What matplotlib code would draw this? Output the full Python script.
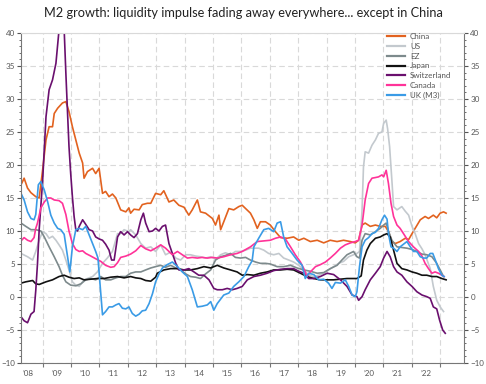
import matplotlib
matplotlib.use("Agg")
import matplotlib.pyplot as plt
from matplotlib.ticker import FixedLocator, MultipleLocator
import numpy as np

plt.rcParams['font.family'] = ['Lato', 'DejaVu Sans']

#region data (year as decimal, growth in % y/y)
china_t = [2008.24, 2008.35, 2008.47, 2008.59, 2008.76, 2008.88, 2009.00, 2009.12, 2009.23, 2009.35,
           2009.41, 2009.53, 2009.70, 2009.82, 2009.93, 2010.05, 2010.17, 2010.29, 2010.41, 2010.46,
           2010.58, 2010.76, 2010.87, 2010.99, 2011.11, 2011.22, 2011.34, 2011.46, 2011.58, 2011.75,
           2011.93, 2012.04, 2012.10, 2012.22, 2012.40, 2012.51, 2012.69, 2012.81, 2012.98, 2013.16,
           2013.27, 2013.45, 2013.62, 2013.80, 2013.98, 2014.15, 2014.27, 2014.45, 2014.56, 2014.74,
           2014.98, 2015.09, 2015.21, 2015.27, 2015.38, 2015.56, 2015.73, 2015.91, 2016.03, 2016.15,
           2016.32, 2016.44, 2016.56, 2016.67, 2016.85, 2017.02, 2017.20, 2017.38, 2017.61, 2017.84,
           2018.02, 2018.20, 2018.43, 2018.67, 2018.90, 2019.13, 2019.37, 2019.60, 2019.84, 2020.01,
           2020.13, 2020.25, 2020.36, 2020.54, 2020.72, 2020.89, 2021.07, 2021.18, 2021.30, 2021.42,
           2021.59, 2021.77, 2021.89, 2022.01, 2022.12, 2022.30, 2022.47, 2022.59, 2022.76, 2022.88,
           2023.00, 2023.12, 2023.21]
china_v = [17.0, 18.0, 16.5, 15.8, 15.2, 15.0, 19.2, 23.8, 25.8, 25.8,
           27.8, 28.6, 29.4, 29.6, 28.1, 25.8, 23.8, 21.8, 20.3, 18.0,
           19.0, 19.5, 18.7, 19.5, 15.7, 16.0, 15.2, 15.6, 15.0, 13.2,
           12.9, 13.5, 12.7, 13.3, 13.2, 14.0, 14.2, 14.2, 15.7, 15.5,
           16.1, 14.4, 14.7, 13.9, 13.6, 12.4, 13.2, 14.7, 12.9, 12.7,
           11.9, 10.9, 12.4, 10.2, 11.4, 13.4, 13.2, 13.7, 13.9, 13.4,
           12.7, 11.7, 10.4, 11.4, 11.4, 10.9, 9.9, 9.0, 8.9, 9.1,
           8.6, 8.9, 8.4, 8.6, 8.2, 8.6, 8.4, 8.6, 8.4, 8.2,
           8.6, 10.9, 11.2, 10.7, 10.9, 10.7, 10.7, 9.9, 8.4, 8.1,
           8.4, 8.9, 8.7, 9.6, 10.4, 11.7, 12.2, 11.9, 12.4, 12.0,
           12.7, 12.9, 12.7]

us_t = [2008.24, 2008.47, 2008.65, 2008.76, 2008.88, 2009.00, 2009.12, 2009.23, 2009.35, 2009.47,
        2009.58, 2009.70, 2009.82, 2009.93, 2010.05, 2010.17, 2010.29, 2010.46, 2010.58, 2010.76,
        2010.93, 2011.11, 2011.28, 2011.46, 2011.64, 2011.75, 2011.87, 2012.04, 2012.10, 2012.28,
        2012.46, 2012.63, 2012.81, 2012.98, 2013.16, 2013.33, 2013.51, 2013.69, 2013.86, 2014.04,
        2014.21, 2014.39, 2014.56, 2014.74, 2014.92, 2015.09, 2015.27, 2015.44, 2015.62, 2015.79,
        2015.97, 2016.15, 2016.32, 2016.44, 2016.61, 2016.79, 2016.96, 2017.14, 2017.32, 2017.49,
        2017.67, 2017.84, 2018.02, 2018.20, 2018.37, 2018.55, 2018.72, 2018.90, 2019.07, 2019.25,
        2019.43, 2019.60, 2019.78, 2019.95, 2020.07, 2020.16, 2020.25, 2020.30, 2020.36, 2020.48,
        2020.60, 2020.72, 2020.83, 2020.95, 2021.01, 2021.10, 2021.15, 2021.22, 2021.30, 2021.36,
        2021.48, 2021.65, 2021.77, 2021.89, 2022.01, 2022.12, 2022.24, 2022.36, 2022.47, 2022.65,
        2022.76, 2022.88, 2023.00, 2023.12]
us_v = [6.6, 6.1, 5.6, 6.9, 8.6, 9.9, 9.6, 8.9, 9.2, 8.6,
        7.9, 7.1, 5.6, 4.1, 2.3, 1.8, 1.6, 2.6, 2.8, 3.1,
        3.8, 5.1, 5.9, 6.9, 9.6, 9.6, 10.2, 9.9, 10.2, 9.4,
        8.1, 7.4, 7.6, 6.9, 7.9, 6.4, 6.8, 5.9, 5.6, 6.4,
        6.4, 6.2, 6.1, 5.9, 6.1, 5.7, 6.4, 6.7, 6.4, 6.9,
        6.9, 7.1, 7.4, 7.4, 7.4, 7.1, 6.6, 6.4, 6.6, 5.9,
        5.6, 5.3, 4.8, 4.1, 3.3, 3.1, 3.3, 3.6, 4.1, 4.6,
        5.1, 5.4, 6.1, 6.4, 6.6, 6.9, 13.2, 19.7, 22.0, 21.8,
        23.0, 23.8, 24.8, 25.0, 26.3, 26.8, 25.5, 22.8, 17.7, 13.7,
        13.2, 13.7, 13.0, 12.4, 10.7, 9.6, 8.1, 7.3, 6.4, 4.3,
        1.6, -0.5, -1.5, -2.2]

ez_t = [2008.24, 2008.41, 2008.59, 2008.76, 2008.94, 2009.06, 2009.23, 2009.41, 2009.58, 2009.70,
        2009.82, 2009.99, 2010.17, 2010.35, 2010.52, 2010.70, 2010.87, 2011.05, 2011.22, 2011.40,
        2011.58, 2011.75, 2011.93, 2012.10, 2012.28, 2012.46, 2012.63, 2012.81, 2012.98, 2013.16,
        2013.33, 2013.51, 2013.69, 2013.86, 2014.04, 2014.21, 2014.39, 2014.56, 2014.74, 2014.92,
        2015.09, 2015.27, 2015.44, 2015.62, 2015.79, 2015.97, 2016.15, 2016.32, 2016.50, 2016.67,
        2016.85, 2017.02, 2017.26, 2017.49, 2017.73, 2017.96, 2018.20, 2018.43, 2018.67, 2018.90,
        2019.13, 2019.37, 2019.54, 2019.72, 2019.95, 2020.07, 2020.16, 2020.25, 2020.36, 2020.54,
        2020.72, 2020.89, 2021.01, 2021.10, 2021.18, 2021.30, 2021.48, 2021.65, 2021.83, 2022.01,
        2022.18, 2022.36, 2022.53, 2022.71, 2022.88, 2023.00, 2023.12]
ez_v = [11.2, 10.7, 10.2, 10.2, 10.0, 9.1, 7.6, 6.1, 4.6, 3.3,
        2.3, 1.8, 1.7, 2.0, 2.6, 2.8, 2.6, 3.1, 2.6, 2.6,
        2.9, 3.1, 3.1, 3.6, 3.8, 3.8, 4.1, 4.4, 4.6, 4.8,
        4.5, 4.8, 4.4, 4.1, 3.5, 3.1, 3.0, 2.8, 3.5, 4.1,
        5.6, 6.1, 6.3, 6.6, 6.0, 5.9, 6.0, 5.6, 5.3, 5.1,
        5.1, 5.0, 4.6, 4.6, 4.8, 4.4, 4.1, 3.9, 3.6, 3.7,
        4.3, 4.8, 5.6, 6.4, 6.9, 6.1, 5.9, 8.6, 9.6, 9.4,
        9.9, 10.4, 10.9, 11.2, 10.0, 8.6, 7.6, 7.5, 7.4, 7.2,
        6.9, 6.5, 6.4, 6.1, 5.1, 4.1, 3.1]

japan_t = [2008.24, 2008.41, 2008.65, 2008.76, 2008.88, 2009.12, 2009.35, 2009.58, 2009.76, 2009.93,
           2010.11, 2010.29, 2010.46, 2010.70, 2010.93, 2011.17, 2011.40, 2011.64, 2011.87, 2012.10,
           2012.28, 2012.46, 2012.63, 2012.81, 2012.98, 2013.04, 2013.27, 2013.51, 2013.75, 2013.98,
           2014.21, 2014.45, 2014.68, 2014.92, 2015.15, 2015.38, 2015.62, 2015.85, 2016.03, 2016.21,
           2016.44, 2016.67, 2016.91, 2017.14, 2017.38, 2017.61, 2017.84, 2018.08, 2018.31, 2018.55,
           2018.78, 2019.02, 2019.25, 2019.49, 2019.72, 2019.95, 2020.07, 2020.22, 2020.30, 2020.42,
           2020.54, 2020.72, 2020.89, 2021.01, 2021.13, 2021.24, 2021.36, 2021.48, 2021.65, 2021.83,
           2022.01, 2022.18, 2022.36, 2022.53, 2022.71, 2022.88, 2023.06, 2023.21]
japan_v = [2.1, 2.3, 2.5, 2.0, 1.9, 2.3, 2.6, 3.1, 3.3, 3.0,
           2.8, 2.9, 2.6, 2.7, 2.8, 2.8, 3.0, 3.1, 2.9, 3.1,
           2.9, 2.8, 2.5, 2.4, 3.0, 3.6, 4.1, 4.3, 4.3, 4.1,
           4.1, 4.3, 4.6, 4.4, 4.8, 4.4, 4.1, 3.8, 3.3, 3.4,
           3.3, 3.6, 3.8, 4.1, 4.1, 4.2, 4.1, 3.6, 3.1, 2.8,
           2.6, 2.6, 2.6, 2.7, 2.8, 2.8, 2.8, 3.2, 5.6, 7.1,
           8.1, 8.9, 9.1, 9.4, 9.6, 9.1, 7.1, 5.1, 4.3, 4.1,
           3.8, 3.6, 3.3, 3.3, 3.1, 3.1, 2.8, 2.6]

swiss_t = [2008.24, 2008.35, 2008.47, 2008.59, 2008.70, 2008.76, 2008.82, 2008.88, 2009.00, 2009.12,
           2009.23, 2009.35, 2009.47, 2009.58, 2009.66, 2009.76, 2009.82, 2009.88, 2009.93, 2009.99,
           2010.05, 2010.11, 2010.17, 2010.23, 2010.29, 2010.41, 2010.52, 2010.64, 2010.76, 2010.87,
           2010.99, 2011.11, 2011.22, 2011.34, 2011.43, 2011.52, 2011.64, 2011.75, 2011.87, 2011.99,
           2012.10, 2012.22, 2012.34, 2012.46, 2012.55, 2012.63, 2012.75, 2012.87, 2012.98, 2013.10,
           2013.22, 2013.33, 2013.45, 2013.57, 2013.69, 2013.80, 2013.98, 2014.15, 2014.33, 2014.50,
           2014.68, 2014.86, 2015.03, 2015.15, 2015.33, 2015.50, 2015.68, 2015.85, 2016.03, 2016.21,
           2016.44, 2016.67, 2016.91, 2017.14, 2017.38, 2017.61, 2017.84, 2018.02, 2018.20, 2018.37,
           2018.55, 2018.78, 2019.02, 2019.25, 2019.49, 2019.72, 2019.90, 2020.07, 2020.13, 2020.25,
           2020.36, 2020.54, 2020.72, 2020.89, 2021.01, 2021.13, 2021.24, 2021.36, 2021.48, 2021.65,
           2021.83, 2022.01, 2022.18, 2022.36, 2022.53, 2022.65, 2022.76, 2022.88, 2022.98, 2023.09,
           2023.18]
swiss_v = [-3.0, -3.6, -3.9, -2.6, -2.2, 1.0, 5.0, 10.2, 17.5, 27.3,
           31.4, 32.9, 35.4, 40.5, 45.0, 40.5, 33.9, 27.8, 22.8, 18.7,
           15.2, 12.2, 10.2, 10.0, 10.7, 11.7, 11.0, 10.2, 10.0, 9.1,
           8.8, 8.6, 8.0, 7.1, 5.6, 5.6, 9.1, 9.9, 9.4, 9.9,
           9.4, 9.0, 9.6, 11.7, 12.7, 11.2, 9.9, 10.0, 10.4, 10.0,
           10.7, 10.9, 8.1, 6.6, 5.1, 4.1, 4.1, 4.3, 3.8, 3.3,
           3.3, 2.6, 1.3, 1.1, 1.1, 1.3, 1.1, 1.3, 1.6, 2.6,
           3.1, 3.3, 3.6, 4.0, 4.2, 4.3, 4.3, 3.9, 3.6, 2.8,
           2.8, 3.1, 3.6, 3.4, 2.6, 1.6, 0.3, 0.05, -0.5, 0.05,
           1.1, 2.6, 3.6, 4.6, 5.9, 6.9, 6.1, 4.6, 3.8, 3.3,
           2.3, 1.6, 0.8, 0.3, 0.05, -0.2, -1.5, -1.8, -3.5, -5.0,
           -5.5]

canada_t = [2008.24, 2008.35, 2008.47, 2008.59, 2008.70, 2008.76, 2008.82, 2008.94, 2009.06, 2009.18,
            2009.29, 2009.41, 2009.58, 2009.70, 2009.82, 2009.93, 2010.05, 2010.17, 2010.29, 2010.41,
            2010.52, 2010.70, 2010.87, 2011.05, 2011.22, 2011.40, 2011.52, 2011.64, 2011.75, 2011.93,
            2012.10, 2012.28, 2012.46, 2012.63, 2012.81, 2012.98, 2013.16, 2013.33, 2013.57, 2013.75,
            2013.92, 2014.10, 2014.27, 2014.45, 2014.62, 2014.80, 2014.98, 2015.15, 2015.38, 2015.62,
            2015.85, 2016.03, 2016.32, 2016.56, 2016.79, 2017.02, 2017.20, 2017.38, 2017.55, 2017.73,
            2017.90, 2018.08, 2018.20, 2018.31, 2018.43, 2018.61, 2018.78, 2018.96, 2019.13, 2019.31,
            2019.49, 2019.66, 2019.84, 2020.01, 2020.13, 2020.25, 2020.36, 2020.48, 2020.60, 2020.72,
            2020.83, 2020.95, 2021.01, 2021.10, 2021.18, 2021.27, 2021.36, 2021.48, 2021.59, 2021.71,
            2021.89, 2022.06, 2022.24, 2022.36, 2022.47, 2022.59, 2022.71, 2022.82, 2022.94, 2023.06,
            2023.14]
canada_v = [8.5, 9.0, 8.6, 8.4, 9.0, 10.4, 11.2, 13.5, 14.4, 15.0,
            15.0, 14.7, 14.6, 14.2, 12.5, 10.0, 8.1, 7.2, 6.9, 7.0,
            6.6, 6.2, 5.8, 5.4, 4.8, 4.5, 4.6, 5.2, 6.0, 6.2,
            6.5, 7.0, 7.8, 7.3, 7.0, 7.4, 7.9, 7.4, 6.4, 6.9,
            6.4, 5.9, 6.0, 5.9, 6.0, 5.9, 6.0, 5.9, 6.1, 6.4,
            6.6, 6.9, 7.6, 8.4, 8.5, 8.6, 8.9, 9.1, 8.8, 7.6,
            6.4, 5.3, 4.3, 3.1, 3.8, 4.6, 4.9, 5.3, 5.9, 6.6,
            7.4, 7.9, 8.2, 8.4, 8.6, 10.9, 14.7, 17.2, 18.0, 18.1,
            18.2, 18.5, 18.2, 19.2, 17.2, 14.2, 12.2, 10.9, 10.4, 9.6,
            8.4, 7.6, 6.9, 6.2, 5.1, 4.3, 3.6, 3.8, 3.6, 3.3,
            3.1]

uk_t = [2008.24, 2008.35, 2008.47, 2008.59, 2008.70, 2008.76, 2008.85, 2008.94, 2009.06, 2009.18,
        2009.29, 2009.41, 2009.53, 2009.64, 2009.76, 2009.88, 2009.96, 2010.05, 2010.17, 2010.29,
        2010.41, 2010.52, 2010.64, 2010.76, 2010.87, 2010.95, 2011.02, 2011.11, 2011.22, 2011.34,
        2011.46, 2011.58, 2011.69, 2011.81, 2011.93, 2012.04, 2012.16, 2012.28, 2012.40, 2012.51,
        2012.63, 2012.75, 2012.87, 2012.98, 2013.10, 2013.22, 2013.39, 2013.57, 2013.75, 2013.92,
        2014.10, 2014.27, 2014.45, 2014.62, 2014.80, 2014.92, 2015.03, 2015.15, 2015.38, 2015.56,
        2015.73, 2015.91, 2016.09, 2016.26, 2016.38, 2016.44, 2016.61, 2016.79, 2016.96, 2017.14,
        2017.26, 2017.38, 2017.49, 2017.61, 2017.79, 2017.96, 2018.14, 2018.25, 2018.37, 2018.55,
        2018.72, 2018.90, 2019.07, 2019.19, 2019.31, 2019.49, 2019.66, 2019.78, 2019.90, 2020.01,
        2020.07, 2020.16, 2020.25, 2020.36, 2020.48, 2020.60, 2020.72, 2020.83, 2020.95, 2021.04,
        2021.13, 2021.18, 2021.27, 2021.36, 2021.48, 2021.59, 2021.71, 2021.83, 2021.95, 2022.06,
        2022.18, 2022.30, 2022.41, 2022.53, 2022.65, 2022.74, 2022.83, 2022.94, 2023.06, 2023.14]
uk_v = [15.7, 14.7, 12.9, 11.9, 11.7, 12.5, 17.0, 17.5, 16.2, 14.4,
        12.4, 11.2, 10.4, 10.2, 9.5, 6.1, 3.8, 7.6, 10.2, 10.4,
        10.2, 10.7, 9.4, 8.1, 6.9, 5.9, 2.1, -2.7, -2.2, -1.5,
        -1.5, -1.2, -1.0, -1.7, -1.8, -1.5, -2.5, -2.9, -2.6, -2.1,
        -2.0, -1.0, 0.5, 2.3, 3.5, 4.4, 4.9, 5.3, 4.6, 3.8,
        3.1, 1.1, -1.5, -1.4, -1.2, -0.7, -2.0, -1.0, 0.3, 0.6,
        1.6, 2.3, 3.1, 4.6, 5.5, 7.6, 8.9, 10.2, 10.4, 9.9,
        11.2, 11.4, 9.1, 7.6, 6.6, 5.6, 4.8, 2.8, 3.6, 3.4,
        2.6, 2.7, 2.1, 1.3, 2.2, 2.1, 2.6, 1.6, 0.3, 0.05,
        0.8, 4.6, 7.6, 8.6, 9.0, 9.6, 9.8, 10.4, 11.7, 12.4,
        11.8, 9.6, 7.6, 7.4, 6.9, 7.6, 8.0, 8.4, 7.6, 6.9,
        6.9, 6.1, 5.9, 5.9, 6.6, 6.6, 5.6, 4.3, 3.3, 3.1]

year_labels = ["\u201908", "\u201909", "\u201910", "\u201911", "\u201912", "\u201913", "\u201914", "\u201915",
               "\u201916", "\u201917", "\u201918", "\u201919", "\u201920", "\u201921", "\u201922"]
#endregion

series = [
    ("China", china_t, china_v, "#E2621F"),
    ("US", us_t, us_v, "#C3C9CE"),
    ("EZ", ez_t, ez_v, "#7D8A8C"),
    ("Japan", japan_t, japan_v, "#111111"),
    ("Switzerland", swiss_t, swiss_v, "#6A0F6E"),
    ("Canada", canada_t, canada_v, "#FF3399"),
    ("UK (M3)", uk_t, uk_v, "#3A9BE6"),
]

fig = plt.figure(figsize=(4.86, 3.84), dpi=100)
ax = fig.add_axes([21/486, 1 - 363/384, 443/486, 330/384])

for name, t, v, col in series:
    ax.plot(t, v, color=col, lw=1.2, label=name, solid_joinstyle="round")

ax.set_xlim(2008.24, 2023.84)
ax.set_ylim(-10, 40)

# gridlines at each january, labels at mid-year
ax.xaxis.set_major_locator(FixedLocator(np.arange(2009, 2024)))
ax.xaxis.set_minor_locator(FixedLocator(np.arange(2008, 2023) + 0.5))
ax.set_xticklabels([])
ax.set_xticklabels(year_labels, minor=True)
ax.tick_params(axis="x", which="major", length=3, color="#777777")
ax.tick_params(axis="x", which="minor", length=0, labelsize=5.8, colors="#555555", pad=5)

ax.yaxis.set_major_locator(MultipleLocator(5))
ax.yaxis.set_minor_locator(MultipleLocator(1))
ax.tick_params(axis="y", which="both", labelsize=5.8, colors="#555555", labelcolor="#555555",
               left=True, right=True, labelleft=True, labelright=True, pad=1.5)
ax.tick_params(axis="y", which="major", length=3)
ax.tick_params(axis="y", which="minor", length=1.5)

ax.grid(True, which="major", color="#D9D9D9", linestyle=(0, (5, 3)), lw=0.8)
ax.set_axisbelow(True)

for s in ["left", "right", "bottom"]:
    ax.spines[s].set_color("#777777")
    ax.spines[s].set_linewidth(0.8)
ax.spines["top"].set_color("#D9D9D9")
ax.spines["top"].set_linewidth(0.8)

leg = ax.legend(loc="upper left", bbox_to_anchor=(0.82, 1.01), frameon=False, fontsize=5.8,
                handlelength=2.2, handletextpad=0.6, labelspacing=0.35, borderaxespad=0)
for txt in leg.get_texts():
    txt.set_color("#555555")
for h in leg.get_lines():
    h.set_linewidth(1.6)

fig.text(0.5, 1 - 13/384, "M2 growth: liquidity impulse fading away everywhere... except in China",
         ha="center", va="center", fontsize=9.2, color="#222222")

fig.savefig("out.png", dpi=100)
